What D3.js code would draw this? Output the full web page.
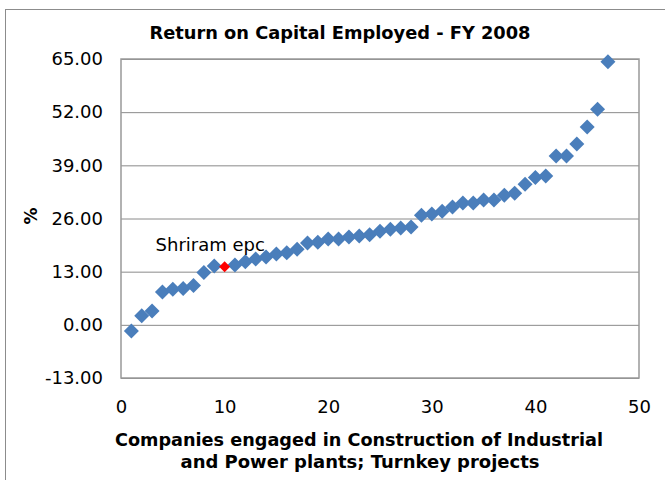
<!DOCTYPE html>
<html>
<head>
<meta charset="utf-8">
<script src="https://cdn.jsdelivr.net/npm/d3@7/dist/d3.min.js"></script>
<style>
  html, body { margin: 0; padding: 0; background: #fff; }
  svg { display: block; }
  .tick text { font-family: "DejaVu Sans", Verdana, sans-serif; }
</style>
</head>
<body>
<div id="chart"></div>
<script>
// ROCE (%) per company, sorted ascending
const companies = d3.range(1, 48);
const roce = [
  -1.5, 2.2, 3.4, 8.0, 8.7, 8.9, 9.6, 12.8, 14.4, 14.2,
  14.6, 15.4, 16.1, 16.6, 17.3, 17.6, 18.5, 20.0, 20.2, 21.0,
  21.0, 21.5, 21.7, 22.0, 22.9, 23.4, 23.7, 23.9, 26.8, 27.1,
  27.8, 28.8, 29.8, 29.8, 30.5, 30.5, 31.7, 32.2, 34.4, 36.0,
  36.4, 41.3, 41.3, 44.2, 48.4, 52.7, 64.3
];
const highlightIndex = 9; // Shriram epc
const highlightLabel = 'Shriram epc';

const yTicks = [-13, 0, 13, 26, 39, 52, 65];
const xTicks = [0, 10, 20, 30, 40, 50];

const chartTitle = 'Return on Capital Employed - FY 2008';
const xTitle = ['Companies engaged in Construction of Industrial', 'and Power plants; Turnkey projects'];
const yTitle = '%';

const width = 665, height = 480;
const margin = { top: 59, right: 26, bottom: 102, left: 121 };

const svg = d3.select('#chart').append('svg')
  .attr('width', width)
  .attr('height', height);

// chart area border
svg.append('rect')
  .attr('x', 5.5).attr('y', 9.5)
  .attr('width', 700).attr('height', 500)
  .attr('fill', '#fff')
  .attr('stroke', '#8c8c8c');

const x = d3.scaleLinear().domain([0, 50]).range([margin.left, width - margin.right]);
const y = d3.scaleLinear().domain([-13, 65]).range([height - margin.bottom, margin.top]);

// gridlines
svg.append('g')
  .selectAll('line')
  .data(yTicks)
  .enter().append('line')
  .attr('x1', x(0)).attr('x2', x(50))
  .attr('y1', d => y(d) + 0.5).attr('y2', d => y(d) + 0.5)
  .attr('stroke', '#8a8a8a')
  .attr('stroke-width', 1);

// plot area border
svg.append('rect')
  .attr('x', x(0)).attr('y', y(65))
  .attr('width', x(50) - x(0)).attr('height', y(-13) - y(65))
  .attr('fill', 'none')
  .attr('stroke', '#999')
  .attr('stroke-width', 1.5);

// axes (labels only)
const yAxis = svg.append('g')
  .attr('transform', `translate(${x(0)},0)`)
  .call(d3.axisLeft(y).tickValues(yTicks).tickSize(0).tickPadding(18)
    .tickFormat(d => d.toFixed(2)));
yAxis.select('.domain').remove();
yAxis.selectAll('text').attr('font-size', 18).attr('fill', '#000');

const xAxis = svg.append('g')
  .attr('transform', `translate(0,${y(-13)})`)
  .call(d3.axisBottom(x).tickValues(xTicks).tickSize(0).tickPadding(22));
xAxis.select('.domain').remove();
xAxis.selectAll('text').attr('font-size', 18).attr('fill', '#000');

// points
const diamond = d3.symbol().type(d3.symbolDiamond);
const pts = companies.map((c, i) => ({ c, v: roce[i], i }));

svg.append('g')
  .selectAll('path')
  .data(pts.filter(d => d.i !== highlightIndex))
  .enter().append('path')
  .attr('transform', d => `translate(${x(d.c)},${y(d.v)}) rotate(0)`)
  .attr('d', 'M0,-7.5L7.5,0L0,7.5L-7.5,0Z')
  .attr('fill', '#4a7ebb');

const hp = pts[highlightIndex];
svg.append('path')
  .attr('transform', `translate(${x(hp.c)},${y(hp.v)})`)
  .attr('d', 'M0,-5.5L5.5,0L0,5.5L-5.5,0Z')
  .attr('fill', '#ff0000');

svg.append('text')
  .attr('x', x(hp.c) - 69)
  .attr('y', y(hp.v) - 16)
  .attr('font-family', '"DejaVu Sans", Verdana, sans-serif')
  .attr('font-size', 18)
  .text(highlightLabel);

// titles
svg.append('text')
  .attr('x', 340).attr('y', 39)
  .attr('text-anchor', 'middle')
  .attr('font-family', '"DejaVu Sans", Tahoma, sans-serif')
  .attr('font-weight', 'bold')
  .attr('font-size', 17)
  .attr('textLength', 381).attr('lengthAdjust', 'spacingAndGlyphs')
  .text(chartTitle);

const xt = svg.append('text')
  .attr('text-anchor', 'middle')
  .attr('font-family', '"DejaVu Sans", Tahoma, sans-serif')
  .attr('font-weight', 'bold')
  .attr('font-size', 17);
xt.append('tspan').attr('x', 359).attr('y', 446)
  .attr('textLength', 488).attr('lengthAdjust', 'spacingAndGlyphs').text(xTitle[0]);
xt.append('tspan').attr('x', 360).attr('y', 468)
  .attr('textLength', 359).attr('lengthAdjust', 'spacingAndGlyphs').text(xTitle[1]);

svg.append('text')
  .attr('transform', 'translate(37,216) rotate(-90)')
  .attr('text-anchor', 'middle')
  .attr('font-family', '"DejaVu Sans", Tahoma, sans-serif')
  .attr('font-weight', 'bold')
  .attr('font-size', 17)
  .text(yTitle);
</script>
</body>
</html>
